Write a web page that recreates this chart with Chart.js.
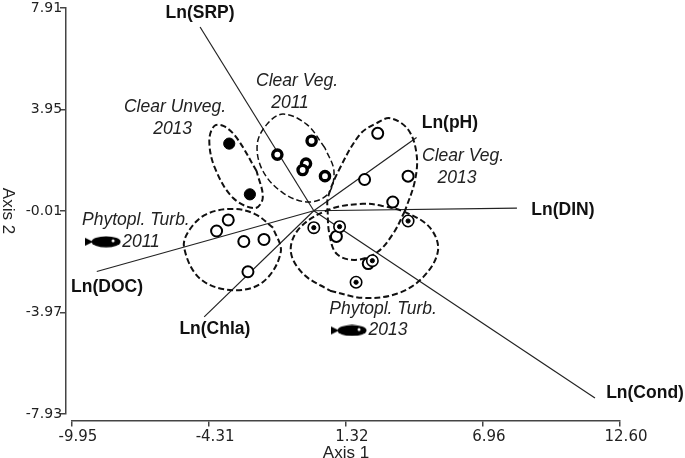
<!DOCTYPE html>
<html>
<head>
<meta charset="utf-8">
<title>Ordination biplot</title>
<script src="https://cdn.jsdelivr.net/npm/chart.js@4"></script>
<style>
  html, body { margin: 0; padding: 0; background: #fff; }
  canvas { display: block; }
</style>
</head>
<body>
<canvas id="biplot" width="685" height="458"></canvas>
<script>
// Axis ticks
const xTicks = [-9.95, -4.31, 1.32, 6.96, 12.60];
const yTicks = [-7.93, -3.97, -0.01, 3.95, 7.91];

// Site scores, one array per group
const clearUnveg2013 = [[-3.48, 2.62], [-2.63, 0.64]];
const clearVeg2011 = [[-1.50, 2.19], [-0.09, 2.73], [-0.32, 1.84], [-0.46, 1.59], [0.46, 1.35]];
const clearVeg2013 = [[2.63, 3.02], [2.09, 1.22], [3.88, 1.35], [3.25, 0.34], [0.93, -1.00], [2.24, -2.06]];
const phytopl2011 = [[-3.52, -0.36], [-4.00, -0.79], [-2.88, -1.20], [-2.05, -1.12], [-2.71, -2.38]];
const phytopl2013 = [[0.00, -0.66], [1.06, -0.62], [3.88, -0.40], [2.41, -1.95], [1.74, -2.79]];

// Environmental vectors, all drawn out from the origin
const vectorNames = ['Ln(SRP)', 'Ln(Cond)', 'Ln(pH)', 'Ln(DIN)', 'Ln(DOC)', 'Ln(Chla)'];
const vectorEnds = [[-4.68, 7.17], [11.57, -7.31], [4.23, 2.86], [8.36, 0.10], [-8.93, -2.37], [-4.51, -4.14]];

// Hand drawn group outlines (each starts on a straight stretch)
const outlineUnveg2013 = [[-2.35, 1.54], [-3.17, 2.84], [-3.70, 3.30], [-4.10, 3.30], [-4.30, 2.71], [-4.07, 1.67], [-3.33, 0.51], [-2.42, 0.10], [-2.10, 0.51], [-2.35, 1.54]];
const outlineVeg2011 = [[0.46, 2.45], [-0.29, 3.37], [-1.27, 3.77], [-1.94, 3.36], [-2.33, 2.58], [-2.09, 1.54], [-1.27, 0.70], [-0.24, 0.34], [0.58, 0.65], [0.83, 1.54], [0.46, 2.45]];
const outlineVeg2013 = [[3.75, -0.01], [3.26, -0.90], [2.59, -1.63], [1.70, -1.92], [0.94, -1.68], [0.64, -0.90], [0.57, -0.01], [0.58, 0.51], [1.01, 1.54], [1.90, 2.98], [2.59, 3.42], [3.14, 3.61], [3.88, 3.17], [4.23, 2.20], [4.16, 1.16], [3.75, -0.01]];
const outlinePhyto2011 = [[-1.68, -0.66], [-2.42, -0.13], [-3.33, 0.07], [-4.41, -0.13], [-5.09, -0.71], [-5.34, -1.42], [-4.68, -2.65], [-3.33, -3.10], [-2.09, -2.78], [-1.36, -1.61], [-1.68, -0.66]];
const outlinePhyto2013 = [[0.67, -3.12], [2.02, -3.40], [3.41, -3.24], [4.49, -2.60], [5.11, -1.56], [4.78, -0.66], [3.82, -0.08], [2.85, 0.18], [2.02, 0.27], [0.67, 0.06], [-0.57, -0.66], [-0.95, -1.56], [-0.44, -2.46], [0.67, -3.12]];

// Fish icons next to the turbid groups
const fishPoints = [[-8.67, -1.21], [1.45, -4.67]];

// Labels: text and where they sit in axis units
const vectorLabelPos = [[-4.68, 7.72], [13.63, -7.11], [5.60, 3.41], [10.25, 0.03], [-8.51, -3.00], [-4.07, -4.63]];
const groupLabels = ['Clear Veg.', '2011', 'Clear Unveg.', '2013', 'Clear Veg.', '2013', 'Phytopl. Turb.', '2011', 'Phytopl. Turb.', '2013'];
const groupLabelPos = [[-0.69, 5.04], [-0.98, 4.18], [-5.71, 4.03], [-5.81, 3.17], [6.14, 2.13], [5.89, 1.27], [-7.32, -0.36], [-7.11, -1.21], [2.85, -3.85], [3.05, -4.67]];

const toXY = pairs => pairs.map(p => ({ x: p[0], y: p[1] }));

// Black fish with a white eye, used as a point style
function makeFish() {
  const c = document.createElement('canvas');
  c.width = 36;
  c.height = 12;
  const g = c.getContext('2d');
  g.fillStyle = '#000';
  g.beginPath();
  g.moveTo(0, 2);
  g.lineTo(8, 6);
  g.lineTo(0, 10);
  g.closePath();
  g.fill();
  g.beginPath();
  g.ellipse(21, 6, 14.5, 5.6, 0, 0, Math.PI * 2);
  g.fill();
  g.fillStyle = '#fff';
  g.beginPath();
  g.arc(28, 5, 1.5, 0, Math.PI * 2);
  g.fill();
  return c;
}

function outlineSet(points, width) {
  return {
    type: 'line',
    data: toXY(points),
    borderColor: '#111',
    borderWidth: width,
    borderDash: [6, 3],
    pointRadius: 0,
    tension: 0.36,
    fill: false
  };
}

function pointSet(points, radius, width, fillColor) {
  return {
    data: toXY(points),
    pointStyle: 'circle',
    pointRadius: radius,
    pointBorderWidth: width,
    pointBorderColor: '#000',
    pointBackgroundColor: fillColor,
    showLine: false
  };
}

const datasets = [];

// Vectors first so the points sit on top
vectorEnds.forEach(end => {
  datasets.push({
    type: 'line',
    data: toXY([[0, 0], end]),
    borderColor: '#222',
    borderWidth: 1.2,
    pointRadius: 0,
    tension: 0
  });
});

datasets.push(outlineSet(outlineUnveg2013, 2));
datasets.push(outlineSet(outlineVeg2011, 1.5));
datasets.push(outlineSet(outlineVeg2013, 2));
datasets.push(outlineSet(outlinePhyto2011, 2));
datasets.push(outlineSet(outlinePhyto2013, 2));

datasets.push(pointSet(clearUnveg2013, 5.6, 1, '#000'));
datasets.push(pointSet(clearVeg2011, 4.6, 3.4, '#fff'));
datasets.push(pointSet(clearVeg2013, 5.5, 2, '#fff'));
datasets.push(pointSet(phytopl2011, 5.5, 2, '#fff'));
datasets.push(pointSet(phytopl2013, 5.7, 1.6, '#fff'));
datasets.push(pointSet(phytopl2013, 2.1, 1, '#000'));

datasets.push({
  data: toXY(fishPoints),
  pointStyle: makeFish(),
  showLine: false
});

// Chart.js paints the first dataset last, so flip the list
datasets.reverse();

// Bold vector names and italic group names
const textLabels = {
  id: 'textLabels',
  afterDatasetsDraw(chart) {
    const { ctx, scales } = chart;
    ctx.save();
    ctx.fillStyle = '#111';
    ctx.textAlign = 'center';
    ctx.textBaseline = 'middle';
    ctx.font = 'bold 17.5px "Liberation Sans"';
    vectorNames.forEach((name, i) => {
      ctx.fillText(name, scales.x.getPixelForValue(vectorLabelPos[i][0]), scales.y.getPixelForValue(vectorLabelPos[i][1]));
    });
    ctx.font = 'italic 17.5px "Liberation Sans"';
    ctx.fillStyle = '#222';
    groupLabels.forEach((name, i) => {
      ctx.fillText(name, scales.x.getPixelForValue(groupLabelPos[i][0]), scales.y.getPixelForValue(groupLabelPos[i][1]));
    });
    ctx.restore();
  }
};

function axisStyle(tickValues, axisPosition) {
  return {
    type: 'linear',
    position: axisPosition,
    min: tickValues[0],
    max: tickValues[tickValues.length - 1],
    afterBuildTicks: scale => {
      scale.ticks = tickValues.map(v => ({ value: v }));
    },
    // the end labels should not push the plot area inwards
    afterFit: scale => {
      scale.paddingTop = 0;
      scale.paddingBottom = 0;
    },
    border: { display: true, color: '#444', width: 1.5 },
    grid: { drawOnChartArea: false, color: '#444', lineWidth: 1.5, tickLength: 5 },
    ticks: {
      color: '#222',
      font: { family: 'DejaVu Sans', size: 15 },
      padding: 2,
      maxRotation: 0,
      autoSkip: false,
      callback: v => v.toFixed(2)
    }
  };
}

const titleStyle = {
  display: true,
  color: '#222',
  font: { family: 'Liberation Sans', size: 17 }
};

// x axis: labels sit a little right of their ticks in the original
const xAxis = axisStyle(xTicks, { y: -8.20 });
xAxis.ticks.labelOffset = 6;
xAxis.title = { ...titleStyle, text: 'Axis 1', padding: { top: -5, bottom: 0 } };

// y axis: line and tick marks only
const yAxis = axisStyle(yTicks, { x: -10.21 });
yAxis.ticks.display = false;

// A separate scale carries the y labels, since a value-positioned axis
// ignores tick padding and would put them against the line
const yLabelAxis = axisStyle(yTicks, { x: -10.36 });
yLabelAxis.axis = 'y';
yLabelAxis.border = { display: false };
yLabelAxis.grid = { display: false };
yLabelAxis.ticks.font = { family: 'DejaVu Sans', size: 14 };
yLabelAxis.ticks.padding = 0;
yLabelAxis.title = { ...titleStyle, text: 'Axis 2', padding: { top: 0, bottom: -2 } };

new Chart(document.getElementById('biplot'), {
  type: 'scatter',
  data: { datasets },
  plugins: [textLabels],
  options: {
    responsive: false,
    animation: false,
    layout: { padding: { left: 72, right: 65, top: 6, bottom: 44 } },
    plugins: {
      legend: { display: false },
      tooltip: { enabled: false }
    },
    scales: {
      x: xAxis,
      y: yAxis,
      yLabels: yLabelAxis
    }
  }
});
</script>
</body>
</html>
